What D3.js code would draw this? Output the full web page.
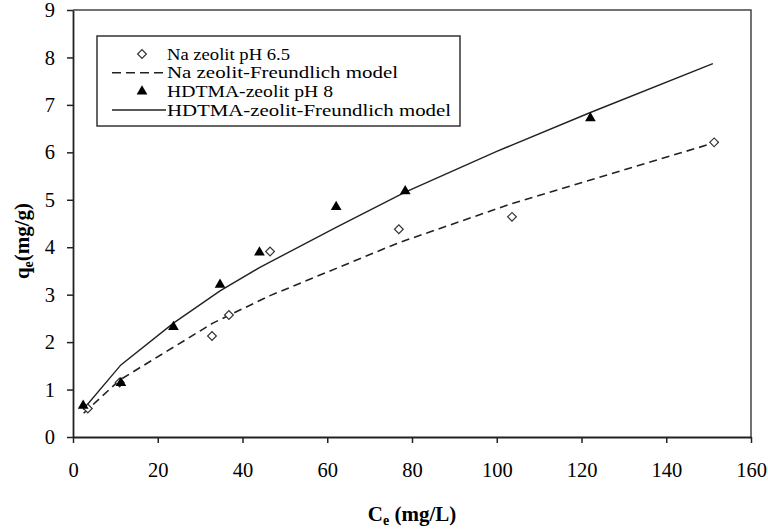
<!DOCTYPE html>
<html><head><meta charset="utf-8">
<script src="https://cdn.jsdelivr.net/npm/d3@7"></script>
<style>body{margin:0;background:#fff;} svg{display:block;} text{font-family:"Liberation Serif","Times New Roman",serif;fill:#000;}</style>
</head><body><svg id="c" width="768" height="530"></svg>
<script>
// Data
const naX = [3.5, 11, 32.8, 36.8, 46.5, 76.9, 103.6, 151.3];
const naY = [0.6, 1.15, 2.13, 2.57, 3.91, 4.38, 4.64, 6.21];
const hdX = [2.4, 11.3, 23.7, 34.7, 44.0, 62.1, 78.4, 122.1];
const hdY = [0.66, 1.14, 2.32, 3.21, 3.89, 4.85, 5.18, 6.72];
const naModelX = [2.5, 11, 33, 36.7, 46.5, 77, 103.6, 151.3];
const naModelY = [0.5, 1.2, 2.4, 2.56, 2.98, 4.1, 4.92, 6.2];
const hdModelX = [2.4, 11.3, 23.7, 34.7, 44, 62.1, 78.4, 100, 122.1, 151];
const hdModelY = [0.58, 1.52, 2.4, 3.08, 3.57, 4.42, 5.16, 6.02, 6.84, 7.87];
const xTicks = [0, 20, 40, 60, 80, 100, 120, 140, 160];
const yTicks = [0, 1, 2, 3, 4, 5, 6, 7, 8, 9];
const legendLabels = ["Na zeolit pH 6.5", "Na zeolit-Freundlich model", "HDTMA-zeolit pH 8", "HDTMA-zeolit-Freundlich model"];

const svg = d3.select("#c");
const L = 73, R = 751, T = 10, B = 437;
const x = d3.scaleLinear().domain([0, 160]).range([L, R]);
const y = d3.scaleLinear().domain([0, 9]).range([B, T]);
const axisCol = "#222";

// frame top/right
svg.append("path").attr("d", `M${L},${T}H${R}V${B}`).attr("fill","none").attr("stroke","#444").attr("stroke-width",1.5);

const gx = svg.append("g").attr("transform", `translate(0,${B})`)
  .call(d3.axisBottom(x).tickValues(xTicks).tickSize(6).tickSizeOuter(0).tickPadding(19));
const gy = svg.append("g").attr("transform", `translate(${L},0)`)
  .call(d3.axisLeft(y).tickValues(yTicks).tickSize(6).tickSizeOuter(0).tickPadding(12));
[gx, gy].forEach(g => {
  g.select(".domain").attr("stroke", axisCol).attr("stroke-width", 1.8);
  g.selectAll(".tick line").attr("stroke", axisCol).attr("stroke-width", 1.5);
  g.selectAll(".tick text").style("font-family", '"Liberation Serif",serif').style("font-size", "20.5px").attr("fill", "#000");
});

// model lines
const line = d3.line().x(d => x(d[0])).y(d => y(d[1]));
svg.append("path").datum(naModelX.map((v, i) => [v, naModelY[i]]))
  .attr("d", line).attr("fill", "none").attr("stroke", "#222").attr("stroke-width", 1.6).attr("stroke-dasharray", "8,5");
svg.append("path").datum(hdModelX.map((v, i) => [v, hdModelY[i]]))
  .attr("d", line).attr("fill", "none").attr("stroke", "#222").attr("stroke-width", 1.4);

// markers
const diamond = d3.symbol().type(d3.symbolSquare).size(38);
const tri = d3.symbol().type(d3.symbolTriangle).size(50);
svg.append("g").selectAll("path").data(naX.map((v, i) => [v, naY[i]])).join("path")
  .attr("d", diamond).attr("transform", d => `translate(${x(d[0])},${y(d[1])}) rotate(45)`)
  .attr("fill", "#fff").attr("stroke", "#333").attr("stroke-width", 1.2);
svg.append("g").selectAll("path").data(hdX.map((v, i) => [v, hdY[i]])).join("path")
  .attr("d", tri).attr("transform", d => `translate(${x(d[0])},${y(d[1])})`)
  .attr("fill", "#000");

// legend
const lg = svg.append("g");
lg.append("rect").attr("x", 97).attr("y", 36).attr("width", 363).attr("height", 90)
  .attr("fill", "#fff").attr("stroke", "#333").attr("stroke-width", 1.5);
const rowY = [54, 72.7, 91.4, 110];
const rowW = [123, 231, 166, 284];
legendLabels.forEach((t, i) => {
  lg.append("text").attr("x", 167).attr("y", rowY[i]).attr("dy", "0.36em")
    .attr("textLength", rowW[i]).attr("lengthAdjust", "spacingAndGlyphs")
    .style("font-size", "16px").text(t);
});
lg.append("path").attr("d", diamond).attr("transform", `translate(142,${rowY[0]}) rotate(45)`)
  .attr("fill", "#fff").attr("stroke", "#333").attr("stroke-width", 1.2);
lg.append("line").attr("x1", 112).attr("x2", 166).attr("y1", rowY[1]).attr("y2", rowY[1])
  .attr("stroke", "#222").attr("stroke-width", 1.6).attr("stroke-dasharray", "9,5");
lg.append("path").attr("d", tri).attr("transform", `translate(142,${rowY[2]})`).attr("fill", "#000");
lg.append("line").attr("x1", 112).attr("x2", 166).attr("y1", rowY[3]).attr("y2", rowY[3])
  .attr("stroke", "#222").attr("stroke-width", 1.4);

// axis titles
const xt = svg.append("text").attr("x", 412).attr("y", 521).attr("text-anchor", "middle")
  .style("font-size", "21px").style("font-weight", "bold");
xt.append("tspan").text("C");
xt.append("tspan").attr("dy", 4).style("font-size", "14px").text("e");
xt.append("tspan").attr("dy", -4).text(" (mg/L)");

const yt = svg.append("text").attr("transform", "translate(29,241) rotate(-90)").attr("text-anchor", "middle")
  .style("font-size", "21px").style("font-weight", "bold");
yt.append("tspan").text("q");
yt.append("tspan").attr("dy", 4).style("font-size", "14px").text("e");
yt.append("tspan").attr("dy", -4).text("(mg/g)");
</script></body></html>
